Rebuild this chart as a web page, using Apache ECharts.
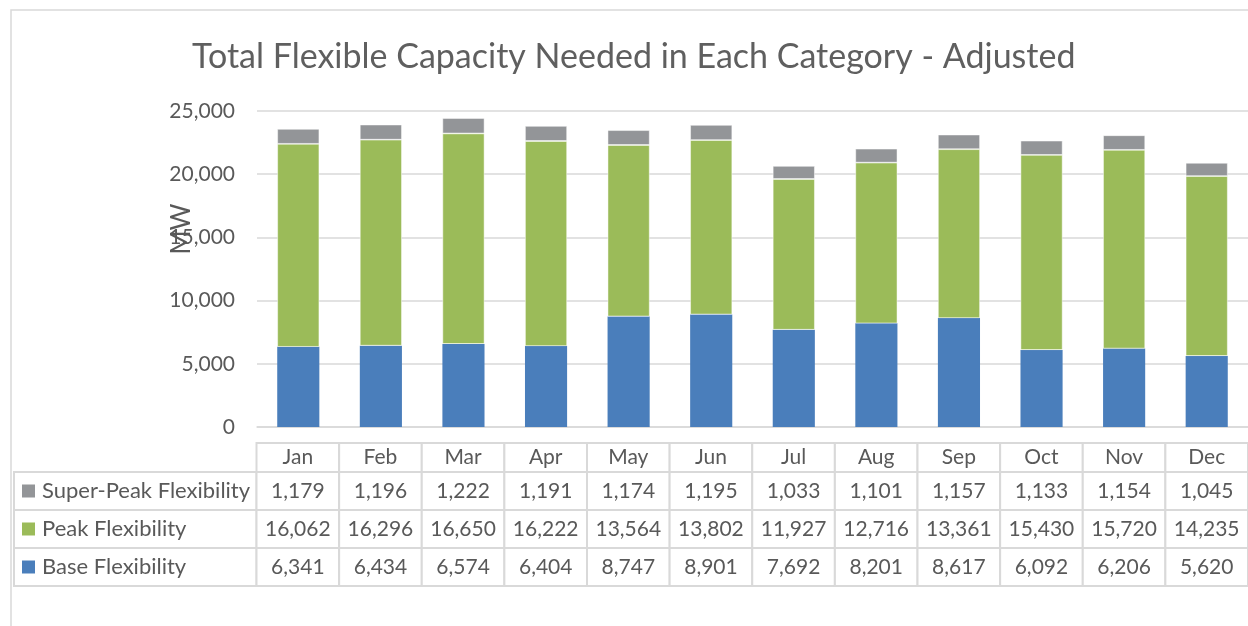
<!DOCTYPE html>
<html>
<head>
<meta charset="utf-8">
<script src="https://cdn.jsdelivr.net/npm/echarts@6/dist/echarts.min.js"></script>
<style>
html,body{margin:0;padding:0;background:#fff;}
#chart{width:1248px;height:626px;}
</style>
</head>
<body>
<div id="chart"></div>
<script>
// ---- data ----
const months = ['Jan','Feb','Mar','Apr','May','Jun','Jul','Aug','Sep','Oct','Nov','Dec'];
const superPeak = [1179,1196,1222,1191,1174,1195,1033,1101,1157,1133,1154,1045];
const peak = [16062,16296,16650,16222,13564,13802,11927,12716,13361,15430,15720,14235];
const base = [6341,6434,6574,6404,8747,8901,7692,8201,8617,6092,6206,5620];
const seriesNames = ['Base Flexibility','Peak Flexibility','Super-Peak Flexibility'];
const seriesColors = ['#4a7ebb','#9bbb59','#939598'];
const yTicks = [0,5000,10000,15000,20000,25000];

const TXT = '#595959';
const LINE = '#d9d9d9';
const FONT = 'Lato';
const LEGEND_SPAN = 2.935;
const HEADER_SPAN = 0.763;

// table cells: [col, row, text, seriesIndex]
const seriesValues = [base, peak, superPeak];
const cells = [];
months.forEach((m, i) => cells.push([i, 3, m, -1]));
seriesValues.forEach((vals, r) => {
  cells.push([-1, r, seriesNames[r], r]);
  vals.forEach((v, i) => cells.push([i, r, v.toLocaleString('en-US'), -1]));
});

const chart = echarts.init(document.getElementById('chart'));
chart.setOption({
  animation: false,
  backgroundColor: '#fff',
  textStyle: {fontFamily: FONT},
  title: {
    text: 'Total Flexible Capacity Needed in Each Category - Adjusted',
    left: 187, top: 35,
    textStyle: {fontFamily: FONT, fontSize: 34, fontWeight: 'normal', color: '#5f5f5f'}
  },
  graphic: [{
    type: 'rect', shape: {x: 11, y: 10, width: 1400, height: 800},
    style: {fill: 'none', stroke: LINE, lineWidth: 1.5}, silent: true, z: -10
  }],
  grid: [
    {left: 257, width: 994, top: 111, height: 316},
    {left: 14, width: 1237, top: 443, height: 143}
  ],
  xAxis: [
    {type: 'category', gridIndex: 0, data: months, boundaryGap: true,
     axisLine: {show: true, lineStyle: {color: LINE, width: 1.5}},
     axisTick: {show: false}, axisLabel: {show: false}},
    {type: 'value', gridIndex: 1, min: -LEGEND_SPAN, max: 12, show: false}
  ],
  yAxis: [
    {type: 'value', gridIndex: 0, min: yTicks[0], max: yTicks[yTicks.length-1], interval: yTicks[1]-yTicks[0],
     name: 'MW', nameLocation: 'middle', nameGap: 62, nameRotate: 90, nameMoveOverlap: false,
     nameTextStyle: {fontFamily: FONT, fontSize: 26, color: TXT, padding: [0,0,0,80]},
     axisLine: {show: false}, axisTick: {show: false},
     axisLabel: {fontFamily: FONT, fontSize: 21, color: TXT, margin: 22,
       formatter: v => v.toLocaleString('en-US')},
     splitLine: {lineStyle: {color: LINE, width: 1.5}}},
    {type: 'value', gridIndex: 1, min: 0, max: 3 + HEADER_SPAN, show: false}
  ],
  series: [
    ...seriesValues.map((vals, k) => ({
      type: 'bar', name: seriesNames[k], stack: 'total', xAxisIndex: 0, yAxisIndex: 0,
      data: vals, barWidth: '51%',
      itemStyle: {color: seriesColors[k], borderColor: 'rgba(255,255,255,0.6)', borderWidth: k === 0 ? 0 : 0.8}
    })),
    {
      type: 'custom', xAxisIndex: 1, yAxisIndex: 1, data: cells,
      renderItem: function (params, api) {
        const col = api.value(0), row = api.value(1);
        const text = cells[params.dataIndex][2];
        const si = cells[params.dataIndex][3];
        const x0v = col < 0 ? -LEGEND_SPAN : col;
        const x1v = col < 0 ? 0 : col + 1;
        const y0v = row;
        const y1v = row === 3 ? 3 + HEADER_SPAN : row + 1;
        const p0 = api.coord([x0v, y1v]);
        const p1 = api.coord([x1v, y0v]);
        const w = p1[0] - p0[0], h = p1[1] - p0[1];
        const children = [{
          type: 'rect', shape: {x: p0[0], y: p0[1], width: w, height: h},
          style: {fill: '#fff', stroke: LINE, lineWidth: 2}
        }];
        if (col < 0) {
          children.push({type: 'rect', shape: {x: p0[0] + 8, y: p0[1] + h/2 - 6.5, width: 13, height: 13},
            style: {fill: seriesColors[si]}});
          children.push({type: 'text', style: {x: p0[0] + 28, y: p0[1] + h/2, text: text,
            fill: TXT, font: '22px ' + FONT, textAlign: 'left', textVerticalAlign: 'middle'}});
        } else {
          children.push({type: 'text', style: {x: p0[0] + w/2, y: p0[1] + h/2, text: text,
            fill: TXT, font: '21px ' + FONT, textAlign: 'center', textVerticalAlign: 'middle'}});
        }
        return {type: 'group', children: children};
      }
    }
  ]
});
</script>
</body>
</html>
